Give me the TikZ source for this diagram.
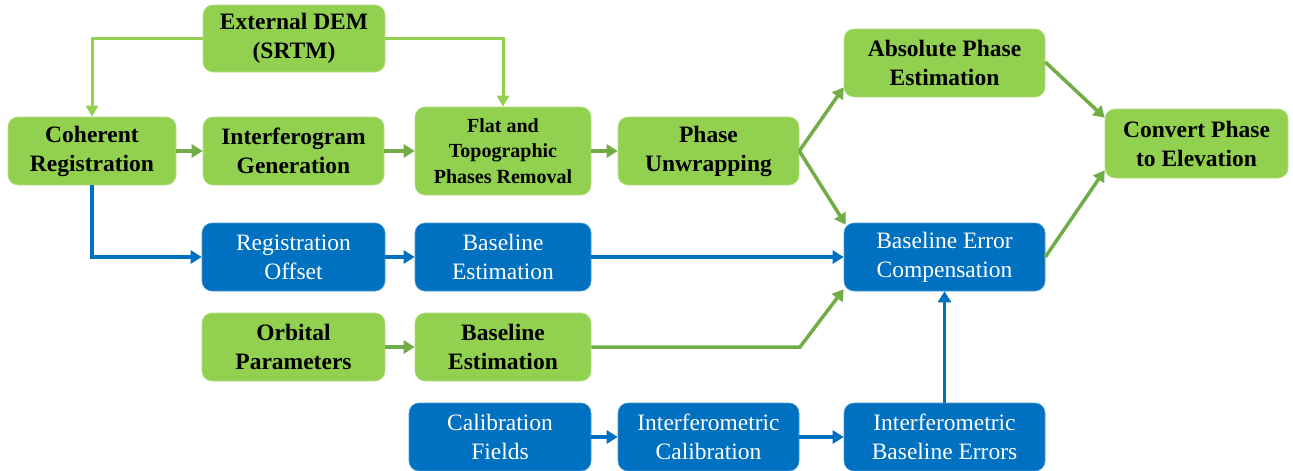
\documentclass[tikz,border=0pt]{standalone}
\usepackage{fontspec}
\setmainfont{Liberation Serif}
\usetikzlibrary{arrows.meta,calc}
\definecolor{gfill}{HTML}{92D050}
\definecolor{garrow}{HTML}{70AD47}
\definecolor{bfill}{HTML}{0070C0}
\tikzset{
  gbox/.style={rectangle, rounded corners=10pt, fill=gfill, draw=gfill!70!white, line width=0.6pt, align=center, inner sep=0pt,
     font=\fontsize{23.5}{29}\selectfont\bfseries, text=black},
  bbox/.style={rectangle, rounded corners=10pt, fill=bfill, draw=bfill!70!white, line width=0.6pt, align=center, inner sep=0pt,
     font=\fontsize{23.5}{29}\selectfont, text=white},
  garr/.style={draw=garrow, line width=3.5pt, -{Triangle[length=11pt,width=13pt]}},
  larr/.style={draw=gfill, line width=3pt, -{Triangle[length=11pt,width=12pt]}},
  barr/.style={draw=bfill, line width=3.5pt, -{Triangle[length=11pt,width=13pt]}},
}
\begin{document}
\begin{tikzpicture}[x=1pt,y=-1pt]
\useasboundingbox (0,0) rectangle (1293,471);
% green nodes
\node[gbox, minimum width=182pt, minimum height=67pt] (dem) at (294,38.5) {External DEM\\(SRTM)};
\node[gbox, minimum width=168pt, minimum height=68pt] (coh) at (92,151) {Coherent\\Registration};
\node[gbox, minimum width=181pt, minimum height=68pt] (ifg) at (293.5,151) {Interferogram\\Generation};
\node[gbox, minimum width=176pt, minimum height=88pt, font=\fontsize{20}{25.5}\selectfont\bfseries] (flat) at (503,151) {Flat and\\Topographic\\Phases Removal};
\node[gbox, minimum width=181pt, minimum height=68pt] (pu) at (708.5,151) {Phase\\Unwrapping};
\node[gbox, minimum width=201pt, minimum height=68pt] (abs) at (944.5,63) {Absolute Phase\\Estimation};
\node[gbox, minimum width=183pt, minimum height=69pt] (conv) at (1196.5,143.5) {Convert Phase\\to Elevation};
\node[gbox, minimum width=183pt, minimum height=68pt] (orb) at (293.5,347) {Orbital\\Parameters};
\node[gbox, minimum width=176pt, minimum height=68pt] (be2) at (503,347) {Baseline\\Estimation};
% blue nodes
\node[bbox, minimum width=183pt, minimum height=68pt] (reg) at (293.5,257) {Registration\\Offset};
\node[bbox, minimum width=176pt, minimum height=68pt] (be1) at (503,257) {Baseline\\Estimation};
\node[bbox, minimum width=201pt, minimum height=68pt] (bec) at (944.5,257) {Baseline Error\\Compensation};
\node[bbox, minimum width=182pt, minimum height=68pt] (cal) at (500,437) {Calibration\\Fields};
\node[bbox, minimum width=181pt, minimum height=68pt] (ical) at (708.5,437) {Interferometric\\Calibration};
\node[bbox, minimum width=201pt, minimum height=68pt] (ibe) at (944.5,437) {Interferometric\\Baseline Errors};
% helper coordinates
\coordinate (absin) at ($(abs.south west)+(0,-10)$);
\coordinate (convin1) at ($(conv.north west)+(0,9)$);
\coordinate (convin2) at ($(conv.south west)+(0,-8)$);
\coordinate (becin1) at ($(bec.north west)+(2,2)$);
\coordinate (becin2) at ($(bec.south west)+(0,-2)$);
\coordinate (bend) at (800,347);
% connectors
\draw[larr] (dem.west) -| (coh.north);
\draw[larr] (dem.east) -| (flat.north);
\draw[garr] (coh) -- (ifg);
\draw[garr] (ifg) -- (flat);
\draw[garr] (flat) -- (pu);
\draw[garr] (pu.east) -- (absin);
\draw[garr] (pu.east) -- (becin1);
\draw[garr] ($(abs.east)+(0,-1)$) -- (convin1);
\draw[garr] (bec.east) -- (convin2);
\draw[garr] (orb) -- (be2);
\draw[garr] (be2.east) -- (bend) -- (becin2);
\draw[barr] (coh.south) |- (reg.west);
\draw[barr] (reg) -- (be1);
\draw[barr] (be1) -- (bec);
\draw[barr] (cal) -- (ical);
\draw[barr] (ical) -- (ibe);
\draw[barr] (ibe) -- (bec);
\end{tikzpicture}
\end{document}
